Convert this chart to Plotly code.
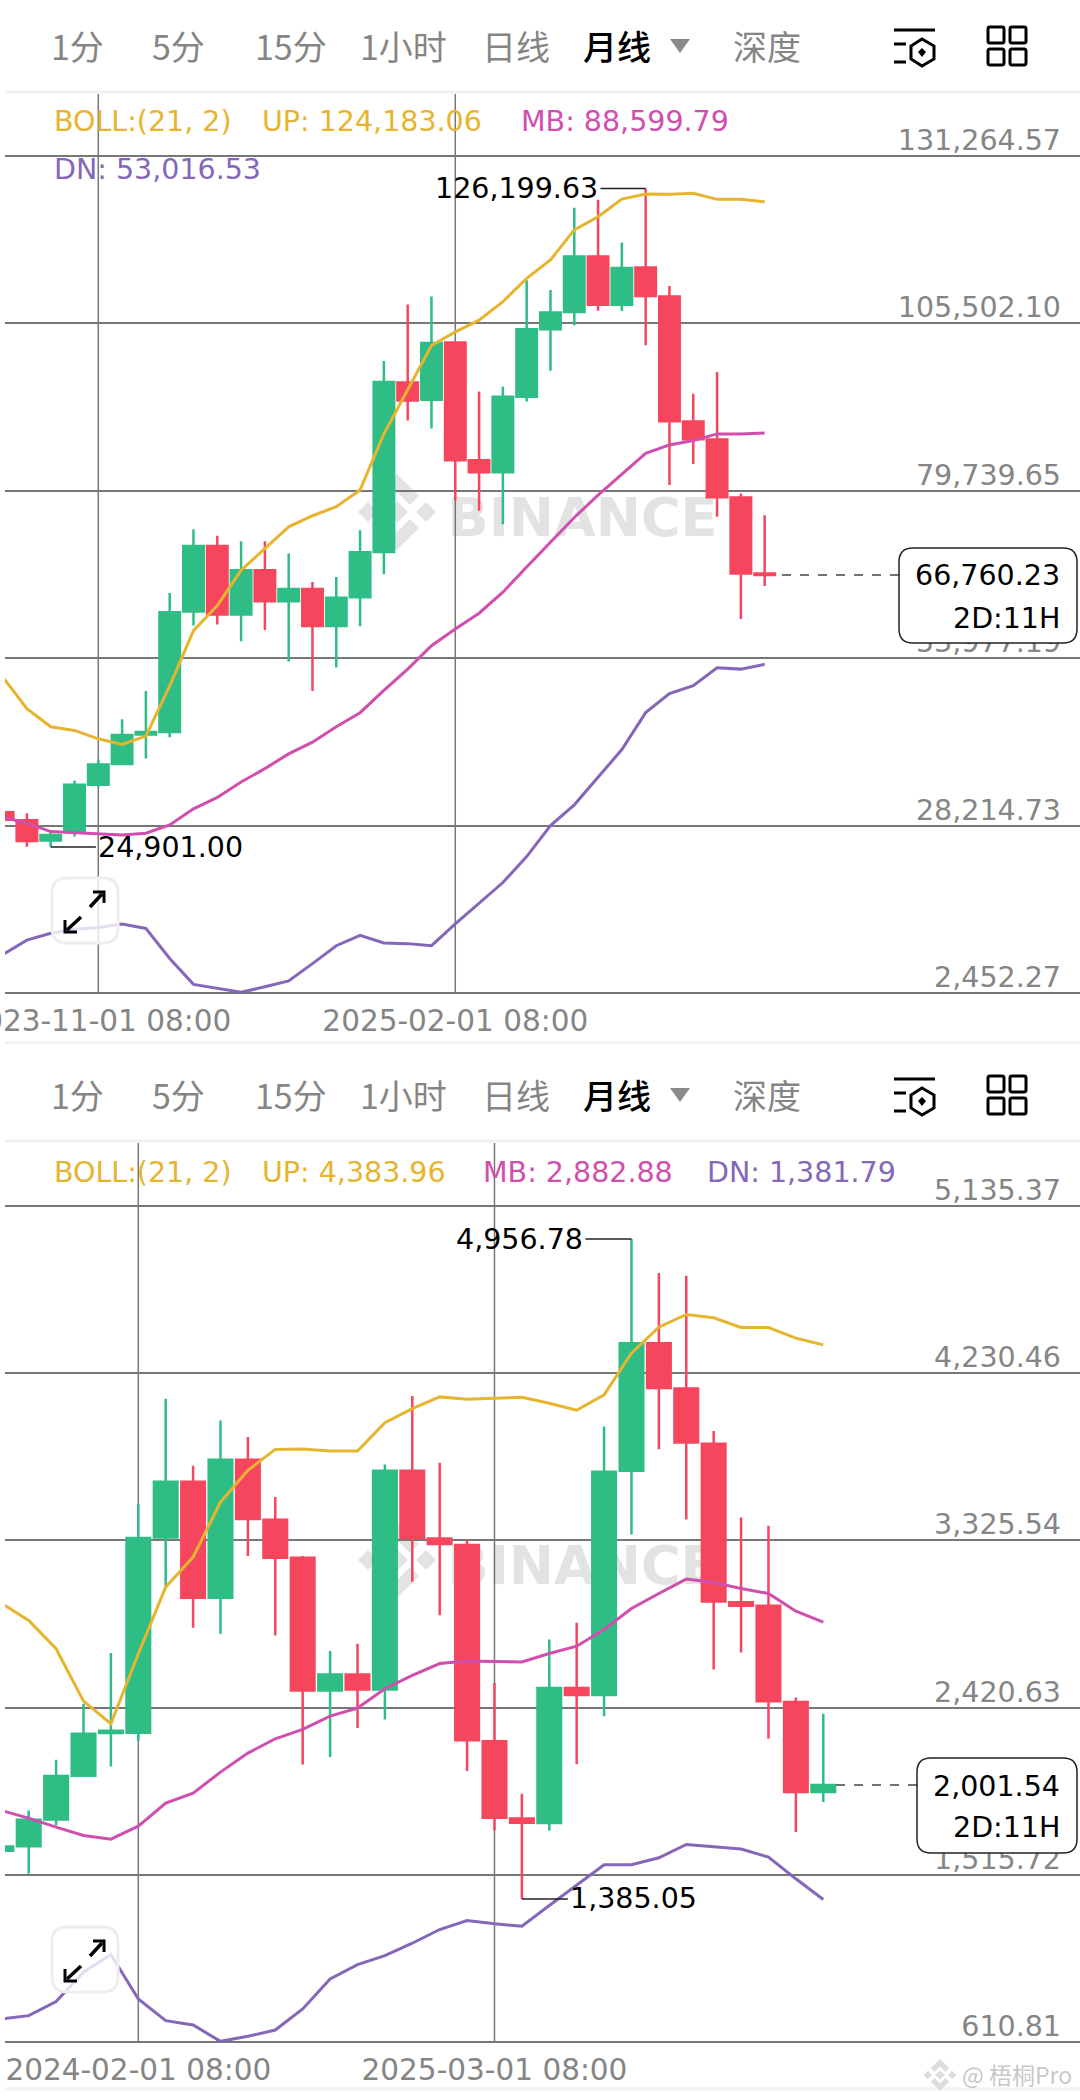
import plotly.graph_objects as go

W, H = 1080, 2100
FONT = "DejaVu Sans"
CJK = "Noto Sans CJK SC"
GREEN, RED = "#2ebd85", "#f6465d"
GOLD, PINK, PURPLE = "#e6b42e", "#d04fae", "#8467b8"
GREY = "#858585"
GRID = "#777777"

periods = ["1分", "5分", "15分", "1小时", "日线", "月线", "深度"]

# top chart, 2023-07 .. 2026-03
btc_open = [30275, 29039, 25895, 27288, 34499, 37696, 42230, 42589, 61138, 71238, 60674,
            67476, 62736, 64591, 58923, 63354, 70310, 96392, 93716, 102517, 84400, 82547,
            94179, 104576, 107201, 115745, 108334, 114046, 109620, 90370, 87591, 78687, 67000]
btc_high = [31408, 30121, 27184, 35118, 38364, 44549, 48928, 63973, 73814, 72783, 71958,
            71958, 70052, 65673, 66446, 73659, 99679, 108385, 109620, 102723, 95002, 95775,
            112090, 110598, 123260, 124495, 117907, 126199.63, 111216, 94642, 97989, 79304, 75959]
btc_low = [28573, 24968, 24901, 26514, 34087, 37593, 38519, 41816, 58975, 59129, 56553,
           58305, 53461, 48928, 52533, 58871, 66858, 90525, 89289, 78275, 76629, 74570,
           93458, 98194, 105193, 107407, 107356, 102105, 80590, 83834, 75701, 59999, 65047]
btc_close = [29090, 25844, 26771, 34499, 37591, 42126, 42589, 61036, 71238, 60674, 67476,
             62736, 64591, 58923, 63251, 70258, 96433, 93613, 102466, 84400, 82547, 94179,
             104576, 107149, 115745, 108334, 113995, 109671, 90422, 87642, 78738, 67004, 66760.23]
btc_up = [50988, 46197, 43414, 42847, 41559, 40683, 41971, 49700, 58202, 62066, 67476,
          70827, 74174, 75876, 77266, 79842, 88450, 95260, 102054, 104164, 105966, 108797,
          112399, 115230, 119862, 121870, 124598, 125370, 125318, 125473, 124546, 124546, 124183.06]
btc_mb = [29502, 28575, 27288, 27080, 26874, 26771, 27029, 28317, 30790, 32543, 34913,
          36973, 39240, 41044, 43414, 45577, 49000, 52284, 55886, 58458, 60878, 64119,
          67981, 71842, 75599, 79047, 82290, 85480, 86768, 87436, 88466, 88466, 88599.79]
btc_dn = [8401, 10578, 11641, 12278, 12544, 13076, 12385, 7764, 3779, 3141, 2556,
          3406, 4311, 6967, 9729, 11323, 10154, 10048, 9729, 13076, 16263, 19449,
          23433, 28214, 31402, 35652, 39901, 45585, 48506, 49728, 52491, 52278, 53016.53]
btc_ticks = [131264.57, 105502.10, 79739.65, 53977.19, 28214.73, 2452.27]
btc_tick_text = ["131,264.57", "105,502.10", "79,739.65", "53,977.19", "28,214.73", "2,452.27"]
btc_dates = ["2023-11-01 08:00", "2025-02-01 08:00"]
btc_date_pos = [4, 19]

# bottom chart, 2023-09 .. 2026-03
eth_open = [1646, 1670.9, 1815.2, 2051.6, 2282.6, 2284.4, 3341.8, 3643.1, 3015.2, 3762.2, 3437.4,
            3231.7, 2513.5, 2600.1, 2519, 3702.7, 3336.4, 3300.2, 2238.2, 1821, 1795.7, 2527.2,
            2489.2, 3703, 4393, 4147.3, 3849.3, 2991.4, 2971.5, 2451.3, 1964]
eth_high = [1750, 1863.9, 2138.2, 2441.4, 2715.6, 3524, 4092.4, 3729.7, 3975.1, 3884.9, 3560.1,
            3240.7, 2726.4, 2766.1, 3737, 4106.8, 3746.4, 3327.4, 2554.3, 1954.6, 2789, 2879.4,
            3941.4, 4956.78, 4772.3, 4757.8, 3918, 3450, 3405, 2474.8, 2388]
eth_low = [1531, 1521.1, 1782.8, 2044.4, 2102.1, 2239.3, 3072.9, 2852.8, 2820.3, 3240.7, 2811.3,
           2113, 2152.7, 2309.6, 2356.6, 3101.8, 2920.9, 2077, 1756, 1385.05, 1756, 2113.6,
           2373.7, 3358, 3818.6, 3439.3, 2626.5, 2718.6, 2252.7, 1747, 1909.5]
eth_close = [1669, 1813.4, 2049.8, 2279.0, 2295.2, 3338.1, 3643.1, 3015.2, 3762.2, 3441, 3231.7,
             2513.5, 2600.1, 2519, 3702.7, 3338.1, 3305.7, 2243.6, 1824.6, 1797.5, 2527.2, 2489.2,
             3697.6, 4393, 4151, 3854.8, 2995, 2971.5, 2454.9, 1963.7, 2001.54]
eth_up = [2986.3, 2892.5, 2739.1, 2455.8, 2333.1, 2712, 3072.9, 3235.3, 3533, 3704.5, 3818.1,
          3819.9, 3809.1, 3809.1, 3962.5, 4038.3, 4102.2, 4089.5, 4095, 4100.4, 4067.9, 4029.9,
          4113, 4338.8, 4479.7, 4548.3, 4530.3, 4477.9, 4477.9, 4420.1, 4383.96]
eth_mb = [1863.9, 1822.5, 1773.7, 1728.6, 1708.8, 1779.2, 1903.6, 1957.8, 2071.4, 2174.3, 2251.9,
          2302.4, 2374.6, 2418, 2522.6, 2594.7, 2659, 2673.4, 2669.9, 2668, 2713.2, 2753,
          2843.3, 2957, 3038.3, 3116, 3098, 3065.4, 3038.3, 2942.6, 2882.88]
eth_dn = [735.4, 753.5, 829.4, 988.3, 1084, 843.8, 726.4, 702.9, 614.5, 641.5, 675.8,
          789.6, 952.2, 1029.9, 1078.6, 1145.4, 1219.5, 1268.3, 1250.2, 1237.6, 1349.5, 1457.9,
          1569.9, 1569.9, 1607.8, 1680, 1669.2, 1654.8, 1611.5, 1494, 1381.79]
eth_ticks = [5135.37, 4230.46, 3325.54, 2420.63, 1515.72, 610.81]
eth_tick_text = ["5,135.37", "4,230.46", "3,325.54", "2,420.63", "1,515.72", "610.81"]
eth_dates = ["2024-02-01 08:00", "2025-03-01 08:00"]
eth_date_pos = [5, 18]


def px(x):
    return x / W


def py(y):
    return 1 - y / H


def note(text, x, y, color=GREY, size=28.5, anchor="left", family=FONT):
    return dict(text=text, x=px(x), y=py(y), xref="paper", yref="paper", showarrow=False,
                xanchor=anchor, yanchor="middle", font=dict(family=family, size=size, color=color))


def poly(points, fill, line=None, width=0, layer="above", close=True):
    d = "M" + " L".join(f"{px(a):.5f},{py(b):.5f}" for a, b in points) + (" Z" if close else "")
    return dict(type="path", path=d, xref="paper", yref="paper", layer=layer, fillcolor=fill,
                line=dict(color=line or fill, width=width))


def rounded(x0, y0, x1, y1, r, fill, line, width, layer="above"):
    d = (f"M{px(x0 + r):.5f},{py(y0):.5f} L{px(x1 - r):.5f},{py(y0):.5f} Q{px(x1):.5f},{py(y0):.5f} {px(x1):.5f},{py(y0 + r):.5f} "
         f"L{px(x1):.5f},{py(y1 - r):.5f} Q{px(x1):.5f},{py(y1):.5f} {px(x1 - r):.5f},{py(y1):.5f} "
         f"L{px(x0 + r):.5f},{py(y1):.5f} Q{px(x0):.5f},{py(y1):.5f} {px(x0):.5f},{py(y1 - r):.5f} "
         f"L{px(x0):.5f},{py(y0 + r):.5f} Q{px(x0):.5f},{py(y0):.5f} {px(x0 + r):.5f},{py(y0):.5f} Z")
    return dict(type="path", path=d, xref="paper", yref="paper", layer=layer, fillcolor=fill,
                line=dict(color=line, width=width))


def seg(x0, y0, x1, y1, color, width):
    return dict(type="line", x0=px(x0), y0=py(y0), x1=px(x1), y1=py(y1), xref="paper", yref="paper",
                line=dict(color=color, width=width))


def logo(cx, cy, k, color, layer="below"):
    out = []
    for dx, r in [(-29 * k, 10 * k), (29 * k, 10 * k), (0, 11 * k)]:
        out.append(poly([(cx + dx - r, cy), (cx + dx, cy - r), (cx + dx + r, cy), (cx + dx, cy + r)], color, layer=layer))
    for s in (-1, 1):
        pts = [(0, 38), (22, 16), (13, 7), (0, 20), (-13, 7), (-22, 16)]
        out.append(poly([(cx + a * k, cy + s * b * k) for a, b in pts], color, layer=layer))
    return out


def header(dy):
    items = []
    xs = [77, 178, 291, 403, 516, 617, 767]
    for name, x in zip(periods, xs):
        item = note(name, x, 45 + dy, "#000000" if name == "月线" else GREY, 34, "center", CJK)
        if name == "月线":
            item["font"]["weight"] = 500
        items.append(item)
    return items


def icons(dy):
    out = [poly([(670, 39 + dy), (690, 39 + dy), (680, 53 + dy)], "#8a8a8a")]
    out.append(seg(894, 30 + dy, 935, 30 + dy, "#000000", 3))
    out.append(seg(894, 44 + dy, 906, 44 + dy, "#000000", 3))
    out.append(seg(894, 62 + dy, 906, 62 + dy, "#000000", 3))
    out.append(poly([(922, 39 + dy), (934, 46 + dy), (934, 59 + dy), (922, 66 + dy), (911, 59 + dy), (911, 46 + dy)],
                    "rgba(0,0,0,0)", "#000000", 3))
    out.append(poly([(922, 48 + dy), (926, 52 + dy), (922, 57 + dy), (918, 52 + dy)], "#000000"))
    for a in (988, 1010):
        for b in (27, 49):
            out.append(rounded(a, b + dy, a + 16, b + 16 + dy, 2, "rgba(0,0,0,0)", "#000000", 3))
    out.append(seg(5, 92 + dy, W, 92 + dy, "#f2f2f2", 3))
    return out


def button(dy):
    out = [rounded(52, 878 + dy, 118, 943 + dy, 15, "rgba(255,255,255,0.78)", "#eeeeee", 3)]
    out.append(seg(90, 907 + dy, 102, 894 + dy, "#000000", 3.5))
    out.append(seg(81, 917 + dy, 67, 930 + dy, "#000000", 3.5))
    out.append(poly([(93, 892 + dy), (104, 892 + dy), (104, 903 + dy)], "rgba(0,0,0,0)", "#000000", 3, close=False))
    out.append(poly([(65, 920 + dy), (65, 932 + dy), (77, 932 + dy)], "rgba(0,0,0,0)", "#000000", 3, close=False))
    return out


def candles(o, h, l, c, xa, ya):
    return go.Candlestick(x=list(range(len(o))), open=o, high=h, low=l, close=c, xaxis=xa, yaxis=ya,
                          whiskerwidth=0, showlegend=False, hoverinfo="skip",
                          increasing=dict(line=dict(color=GREEN, width=2.5), fillcolor=GREEN),
                          decreasing=dict(line=dict(color=RED, width=2.5), fillcolor=RED))


def band(vals, color, xa, ya):
    return go.Scatter(x=list(range(len(vals))), y=vals, mode="lines", xaxis=xa, yaxis=ya, showlegend=False,
                      hoverinfo="skip", line=dict(color=color, width=3))


fig = go.Figure()
fig.add_trace(candles(btc_open, btc_high, btc_low, btc_close, "x", "y"))
for vals, color in [(btc_up, GOLD), (btc_mb, PINK), (btc_dn, PURPLE)]:
    fig.add_trace(band(vals, color, "x", "y"))
fig.add_trace(candles(eth_open, eth_high, eth_low, eth_close, "x2", "y2"))
for vals, color in [(eth_up, GOLD), (eth_mb, PINK), (eth_dn, PURPLE)]:
    fig.add_trace(band(vals, color, "x2", "y2"))

shapes = []
annos = header(0) + header(1049)

# legend rows
annos += [note("BOLL:(21, 2)", 52, 122, GOLD), note("UP: 124,183.06", 260, 122, GOLD),
          note("MB: 88,599.79", 519, 122, PINK), note("DN: 53,016.53", 52, 169, PURPLE)]
annos += [note("BOLL:(21, 2)", 52, 1172, GOLD), note("UP: 4,383.96", 260, 1172, GOLD),
          note("MB: 2,882.88", 481, 1172, PINK), note("DN: 1,381.79", 705, 1172, PURPLE)]

# watermark
for dy in (0, 1048):
    shapes += logo(397, 512 + dy, 1, "#e3e3e3")
    shapes.append(dict(type="rect", x0=px(448), x1=px(717), y0=py(534 + dy), y1=py(492 + dy), xref="paper", yref="paper",
                       layer="below", line=dict(width=0), fillcolor="rgba(0,0,0,0)",
                       label=dict(text="BINANCE", textposition="middle center",
                                  font=dict(family=FONT, size=54, color="#e3e3e3", weight=700))))

# crosshair style verticals
for i in btc_date_pos:
    shapes.append(dict(type="line", x0=i, x1=i, xref="x", y0=py(993), y1=py(94), yref="paper", layer="below",
                       line=dict(color=GRID, width=1.5)))
for i in eth_date_pos:
    shapes.append(dict(type="line", x0=i, x1=i, xref="x2", y0=py(2042), y1=py(1143), yref="paper", layer="below",
                       line=dict(color=GRID, width=1.5)))


# high / low marks
def mark(text, i, val, span, xa, ya):
    shapes.append(dict(type="line", x0=i, x1=i + span, y0=val, y1=val, xref=xa, yref=ya,
                       line=dict(color="#222222", width=1.5)))
    annos.append(dict(text=text, x=i + span, y=val, xref=xa, yref=ya, showarrow=False,
                      xanchor="right" if span < 0 else "left", yanchor="middle",
                      font=dict(family=FONT, size=28.5, color="#000000")))


mark("126,199.63", 27, 126199.63, -1.9, "x", "y")
mark("24,901.00", 2, 24901.00, 1.9, "x", "y")
mark("4,956.78", 23, 4956.78, -1.68, "x2", "y2")
mark("1,385.05", 19, 1385.05, 1.68, "x2", "y2")

# last price
shapes.append(dict(type="line", x0=px(782), x1=px(899), xref="paper", y0=btc_close[-1], y1=btc_close[-1], yref="y",
                   line=dict(color="#444444", width=1.5, dash="dash")))
shapes.append(dict(type="line", x0=px(836), x1=px(917), xref="paper", y0=eth_close[-1], y1=eth_close[-1], yref="y2",
                   line=dict(color="#444444", width=1.5, dash="dash")))
shapes.append(rounded(899, 548, 1077, 643, 14, "#ffffff", "#222222", 1.5))
shapes.append(rounded(917, 1758, 1077, 1853, 14, "#ffffff", "#222222", 1.5))
annos += [note("66,760.23", 1062, 575, "#000000", 28.5, "right"), note("2D:11H", 1062, 618, "#000000", 28.5, "right"),
          note("2,001.54", 1062, 1786, "#000000", 28.5, "right"), note("2D:11H", 1062, 1827, "#000000", 28.5, "right")]

shapes += icons(0) + icons(1049) + button(0) + button(1049)
shapes.append(seg(5, 1042.7, W, 1042.7, "#f2f2f2", 3))
shapes.append(seg(5, 2089, W, 2089, "#f2f2f2", 3))

# corner mark
shapes += logo(940, 2075, 0.42, "#dddddd", "above")
annos.append(note("@ 梧桐Pro", 960, 2074, "#c8c8c8", 23, "left", CJK))


def y_axis(ticks, text, top, bottom, anchor):
    # 2px of slack so the first and last gridlines are not dropped at the axis ends
    pad = (ticks[0] - ticks[-1]) / (bottom - top) * 2
    return dict(domain=[py(bottom + 2), py(top - 2)], range=[ticks[-1] - pad, ticks[0] + pad], side="right", anchor=anchor,
                tickmode="array", tickvals=ticks, ticktext=text, ticklabelposition="inside", ticks="", automargin=False,
                ticklabeloverflow="allow", ticklabelshift=-16, ticklabelstandoff=16, showgrid=True, gridcolor=GRID, gridwidth=1.5,
                zeroline=False, showline=False, tickfont=dict(family=FONT, size=28.5, color=GREY))


def x_axis(rng, pos, text, anchor):
    return dict(domain=[px(5), 1], range=rng, anchor=anchor, tickmode="array", tickvals=pos, ticktext=text, automargin=False,
                ticks="", ticklabelstandoff=5, ticklabeloverflow="allow", showgrid=False, zeroline=False, showline=False,
                rangeslider=dict(visible=False), tickangle=0, tickfont=dict(family=FONT, size=29.5, color=GREY))


fig.update_layout(width=W, height=H, margin=dict(l=0, r=0, t=0, b=0), paper_bgcolor="#ffffff", plot_bgcolor="#ffffff",
                  showlegend=False, boxgap=0.14, boxgroupgap=0, hovermode=False, shapes=shapes, annotations=annos,
                  xaxis=x_axis([0.08, 45.25], btc_date_pos, btc_dates, "y"),
                  yaxis=y_axis(btc_ticks, btc_tick_text, 155.7, 993, "x"),
                  xaxis2=x_axis([0.135, 39.37], eth_date_pos, eth_dates, "y2"),
                  yaxis2=y_axis(eth_ticks, eth_tick_text, 1206, 2042, "x2"))

fig.write_html("out.html", config=dict(displayModeBar=False), post_script="document.body.style.margin='0';")
